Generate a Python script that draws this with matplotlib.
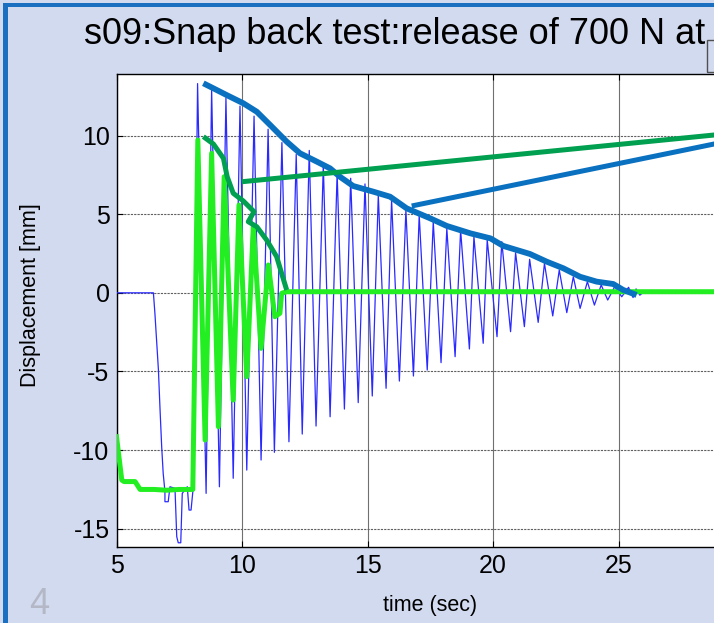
import matplotlib
matplotlib.use("Agg")
import matplotlib.pyplot as plt
from matplotlib.patches import Rectangle

plt.rcParams['font.family'] = ['Liberation Sans', 'DejaVu Sans']
plt.rcParams['axes.unicode_minus'] = False

# ---- measured displacement (blue): quasi-static pull, then release ----
pull_t = [5.0, 6.47, 6.53, 6.67, 6.73, 6.80, 6.86, 6.93, 6.93, 7.06, 7.13, 7.33,
          7.40, 7.46, 7.56, 7.62, 7.82, 7.89, 7.97, 8.06]
pull_v = [0.0, 0.0, -1.3, -4.9, -7.24, -9.78, -11.47, -12.64, -13.28, -13.28, -12.33,
          -12.43, -15.5, -15.89, -15.89, -12.75, -12.33, -13.81, -13.81, -12.33]

peak_t = [8.23, 8.79, 9.36, 9.92, 10.48, 11.04, 11.59, 12.16, 12.68, 13.24, 13.79,
          14.33, 14.90, 15.43, 15.96, 16.53, 17.06, 17.62, 18.16, 18.71, 19.24,
          19.77, 20.35, 20.90, 21.46, 22.05, 22.64, 23.20, 23.76, 24.31, 24.85, 25.40]
peak_v = [13.3, 12.95, 12.4, 11.87, 11.23, 10.4, 9.55, 8.8, 9.05, 8.15, 7.6,
          7.28, 6.92, 6.22, 5.9, 5.26, 4.95, 4.52, 4.1, 3.99, 3.57,
          3.36, 3.25, 2.55, 2.13, 1.87, 1.45, 1.02, 0.71, 0.5, 0.39, 0.35]

trough_t = [8.57, 9.10, 9.65, 10.19, 10.76, 11.29, 11.87, 12.40, 12.95, 13.51, 14.08,
            14.63, 15.19, 15.74, 16.27, 16.83, 17.38, 17.93, 18.49, 19.06, 19.61,
            20.16, 20.70, 21.25, 21.80, 22.38, 22.94, 23.47, 24.04, 24.57, 25.13]
trough_v = [-12.75, -12.33, -11.79, -11.27, -10.63, -10.14, -9.47, -8.98, -8.47, -7.88,
            -7.39, -6.98, -6.56, -6.07, -5.61, -5.29, -4.91, -4.44, -4.06, -3.57,
            -3.21, -2.79, -2.47, -2.15, -1.88, -1.47, -1.26, -0.99, -0.78, -0.46, -0.25]

tail_t = [25.58, 25.70, 25.85, 26.0, 30.0]
tail_v = [-0.3, 0.25, -0.15, 0.05, 0.0]

# ---- simulated response (bright green) ----
sim_t = [5.0, 5.21, 5.30, 5.74, 5.94, 6.5, 7.0, 7.5, 8.04, 8.24, 8.53, 8.79, 9.06,
         9.29, 9.65, 9.88, 10.19, 10.45, 10.76, 11.05, 11.31, 11.51, 11.58, 11.78, 30.0]
sim_v = [-9.15, -11.9, -12.0, -12.0, -12.5, -12.5, -12.55, -12.5, -12.5, 9.71, -9.36,
         8.87, -8.51, 7.38, -6.82, 5.58, -5.33, 4.2, -3.53, 1.77, -1.52, -1.3, -0.03,
         0.07, 0.07]

# ---- decay envelopes ----
env_meas_t = [8.46, 8.86, 9.39, 10.05, 10.59, 11.12, 11.78, 12.31, 12.98, 13.51, 13.9,
              14.43, 15.23, 15.9, 16.56, 17.49, 18.16, 19.1, 19.9, 20.41, 21.47,
              22.14, 22.8, 23.47, 24.13, 24.79, 25.19, 25.72]
env_meas_v = [13.32, 13.0, 12.57, 12.05, 11.51, 10.67, 9.61, 8.87, 8.34, 7.91, 7.38,
              6.79, 6.43, 6.11, 5.37, 4.74, 4.25, 3.78, 3.46, 2.98, 2.47,
              1.98, 1.56, 1.02, 0.71, 0.56, 0.18, -0.14]

env_sim_t = [8.46, 8.86, 9.26, 9.41, 9.65, 10.05, 10.48, 10.25, 10.59, 10.98, 11.38,
             11.62, 11.78]
env_sim_v = [9.93, 9.46, 8.55, 7.38, 6.33, 5.84, 5.16, 4.52, 4.2, 3.36, 2.3, 1.02, 0.18]

# ---- pointer lines towards the labels ----
ptr_sim_t = [9.99, 30.0]
ptr_sim_v = [7.06, 10.22]
ptr_meas_t = [16.76, 30.0]
ptr_meas_v = [5.52, 9.85]

x_ticks = [5, 10, 15, 20, 25]
y_ticks = [-15, -10, -5, 0, 5, 10]

W, H = 714, 623
fig = plt.figure(figsize=(W / 100, H / 100), dpi=100)
fig.patch.set_facecolor('#d2daef')

# slide frame
fig.patches.append(Rectangle((3 / W, 0), 5 / W, 1 - 3 / H, transform=fig.transFigure,
                             facecolor='#1a6fc0', edgecolor='none', zorder=0))
fig.patches.append(Rectangle((3 / W, 1 - 7 / H), 1, 4 / H, transform=fig.transFigure,
                             facecolor='#1a6fc0', edgecolor='none', zorder=0))

ax_left, ax_right, ax_top, ax_bottom = 116.5, 744.0, 74.0, 546.7
ax = fig.add_axes([ax_left / W, 1 - ax_bottom / H, (ax_right - ax_left) / W,
                   (ax_bottom - ax_top) / H])
ax.set_facecolor('white')

meas_t = list(pull_t)
meas_v = list(pull_v)
for i in range(len(trough_t)):
    meas_t += [peak_t[i], trough_t[i]]
    meas_v += [peak_v[i], trough_v[i]]
meas_t += [peak_t[-1]] + tail_t
meas_v += [peak_v[-1]] + tail_v

ax.plot(meas_t, meas_v, color='#2a2aff', lw=0.9, zorder=3)
ax.plot(sim_t, sim_v, color='#22ee22', lw=3.6, zorder=4, solid_joinstyle='round')
ax.plot(env_sim_t, env_sim_v, color='#00a050', lw=3.6, zorder=5, solid_capstyle='butt')
ax.plot(env_meas_t, env_meas_v, color='#0a70c0', lw=4.2, zorder=5, solid_capstyle='butt')
ax.plot(ptr_sim_t, ptr_sim_v, color='#00a050', lw=3.6, zorder=6, solid_capstyle='butt')
ax.plot(ptr_meas_t, ptr_meas_v, color='#0a70c0', lw=3.6, zorder=6, solid_capstyle='butt')

ax.set_xlim(5, 30)
ax.set_ylim(-16.14, 13.91)
ax.set_xticks(x_ticks)
ax.set_yticks(y_ticks)
ax.tick_params(direction='in', length=4, width=0.8, labelsize=18, top=True, right=True)
ax.tick_params(axis='x', pad=5)
ax.tick_params(axis='y', pad=5)
ax.xaxis.grid(True, color='#707070', lw=0.8, ls='-')
ax.yaxis.grid(True, color='#606060', lw=0.8, ls=(0, (2, 1)))
ax.set_axisbelow(True)
for s in ax.spines.values():
    s.set_linewidth(1.0)
    s.set_color('black')

fig.text(84 / W, 1 - 44 / H, 's09:Snap back test:release of 700 N at', fontsize=26,
         ha='left', va='baseline')
fig.text(430 / W, 1 - 605 / H, 'time (sec)', fontsize=15.5, ha='center', va='center')
fig.text(31 / W, 1 - 295 / H, 'Displacement [mm]', fontsize=15.5, rotation=90,
         ha='center', va='center')
fig.text(29 / W, 1 - 614 / H, '4', fontsize=26, color='#b4b8c6', ha='left', va='baseline')

fig.patches.append(Rectangle((707 / W, 1 - 72 / H), 0.1, 32 / H, transform=fig.transFigure,
                             facecolor='none', edgecolor='#505050', lw=1.0, zorder=1))

fig.savefig('out.png', dpi=100)
